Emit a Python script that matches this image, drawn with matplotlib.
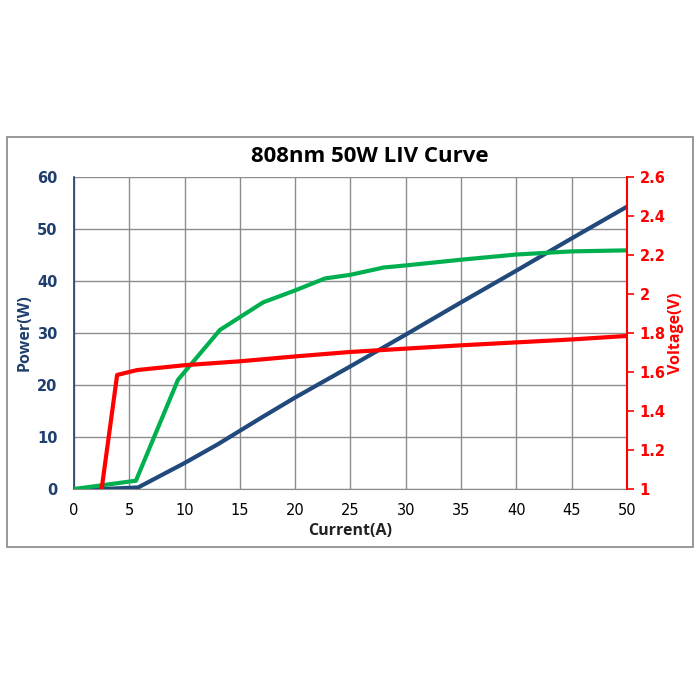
import numpy as np
import matplotlib.pyplot as plt
from matplotlib.patches import Rectangle

# data
power_i = [0, 2.5, 5.8, 10, 13, 17, 20, 23, 25, 30, 35, 40, 45, 50]
power_w = [0, 0, 0.3, 5.0, 8.6, 13.8, 17.6, 21.2, 23.6, 29.7, 35.9, 42.0, 48.2, 54.3]

green_i = [0, 5.6, 9.4, 13.2, 17.1, 20, 22.7, 25, 28, 30, 35, 40, 45, 50]
green_w = [0, 1.6, 21.0, 30.6, 35.9, 38.2, 40.5, 41.2, 42.6, 43.0, 44.1, 45.1, 45.7, 45.9]

volt_i = [2.5, 3.9, 5.7, 10, 15, 20, 25, 30, 35, 40, 45, 50]
volt_v = [1.0, 1.585, 1.61, 1.635, 1.655, 1.68, 1.703, 1.72, 1.737, 1.752, 1.767, 1.785]

navy = "#1f3f6e"
blue = "#21497c"
green = "#00b050"
red = "#ff0000"

plt.rcParams["font.family"] = "DejaVu Sans"

fig = plt.figure(figsize=(7, 7), dpi=100)
fig.patches.append(Rectangle((0.01, 0.219), 0.98, 0.585, transform=fig.transFigure,
                             fill=False, edgecolor="#888888", linewidth=1.2))

ax = fig.add_axes([0.1057, 0.3014, 0.79, 0.4457])
ax.plot(power_i, power_w, color=blue, lw=3, zorder=3)
ax.plot(green_i, green_w, color=green, lw=3, zorder=3)
ax.set_xlim(0, 50)
ax.set_ylim(0, 60)
ax.set_xticks(np.arange(0, 51, 5))
ax.set_yticks(np.arange(0, 61, 10))
ax.grid(True, color="#8c8c8c", lw=1)
ax.set_axisbelow(True)
ax.tick_params(axis="x", length=0, pad=10, labelsize=10.5, colors="black")
ax.tick_params(axis="y", length=0, pad=12, labelsize=10.5, labelcolor=navy)
for lab in ax.get_yticklabels():
    lab.set_fontweight("bold")
for s in ["top", "right"]:
    ax.spines[s].set_visible(False)
ax.spines["bottom"].set_color("#8c8c8c")
ax.spines["left"].set_color(navy)
ax.spines["left"].set_linewidth(1.2)
ax.set_ylabel("Power(W)", color=navy, fontweight="bold", fontsize=11.5,
              labelpad=3, family="Open Sans")

ax2 = ax.twinx()
ax2.plot(volt_i, volt_v, color=red, lw=3, zorder=3)
ax2.set_ylim(1, 2.6)
ax2.set_yticks([1, 1.2, 1.4, 1.6, 1.8, 2, 2.2, 2.4, 2.6])
ax2.set_yticklabels(["1", "1.2", "1.4", "1.6", "1.8", "2", "2.2", "2.4", "2.6"])
ax2.tick_params(axis="y", colors=red, length=5, width=1.2, labelsize=10.5, pad=4)
for lab in ax2.get_yticklabels():
    lab.set_fontweight("bold")
for s in ["top", "left", "bottom"]:
    ax2.spines[s].set_visible(False)
ax2.spines["right"].set_color(red)
ax2.spines["right"].set_linewidth(1.5)
ax2.set_ylabel("Voltage(V)", color=red, fontweight="bold", fontsize=11.5,
               rotation=90, labelpad=2, family="Open Sans")

fig.text(0.528, 0.777, "808nm 50W LIV Curve", ha="center", va="center",
         fontsize=16, fontweight="bold", family="Open Sans")
fig.text(0.5, 0.242, "Current(A)", ha="center", va="center",
         fontsize=11.5, fontweight="bold", color="#222222", family="Open Sans")

fig.savefig("out.png", dpi=100)
